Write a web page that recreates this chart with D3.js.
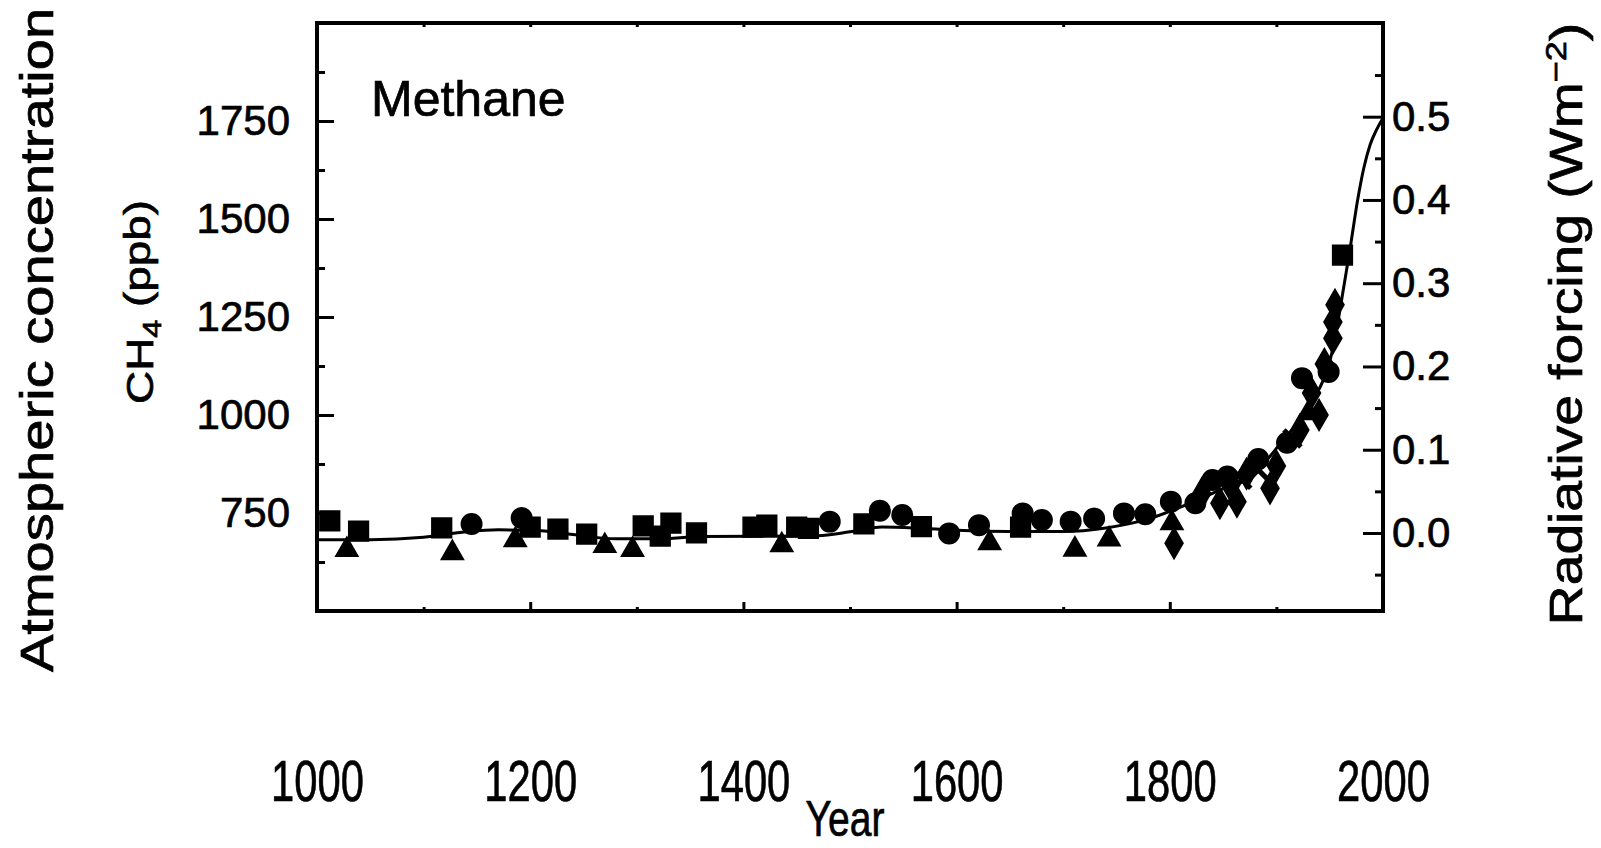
<!DOCTYPE html>
<html>
<head>
<meta charset="utf-8">
<script src="https://cdn.jsdelivr.net/npm/d3@7"></script>
<style>
	html, body { margin: 0; padding: 0; background: #fff; }
	svg { display: block; font-family: 'Liberation Sans', Arial, Helvetica, sans-serif; }
	text { fill: #000; stroke: #000; stroke-width: 0.7px; }
</style>
</head>
<body>
<svg id="chart" width="1601" height="848"></svg>
<script>
// ice core / firn measurements, [year, CH4 ppb]
var squares = [[1012,730],[1039,704],[1117,712],[1200,714],[1226,709],[1253,696],[1306,717],[1322,691],
	[1332,724],[1356,699],[1409,714],[1422,719],[1450,714],[1461,711],[1513,722],[1567,715],[1660,714],[1962,1408]];
var circles = [[1145,722],[1192,737],[1481,728],[1528,756],[1549,745],[1593,698],[1621,719],[1662,749],
	[1680,732],[1707,728],[1729,736],[1757,749],[1777,747],[1801,779],[1824,775],[1840,834],[1854,843],
	[1883,888],[1910,929],[1924,1094],[1949,1110]];
var triangles = [[1028,656],[1127,648],[1186,681],[1270,666],[1296,656],[1436,668],[1631,673],[1711,657],
	[1743,683],[1802,724],[1930,1005]];
var diamonds = [[1804,673],[1830,800],[1847,775],[1857,820],[1863,779],[1872,850],[1894,813],[1900,870],
	[1922,962],[1933,1056],[1940,1000],[1945,1130],[1953,1196],[1953,1237],[1955,1281]];
var crosses = [[1868,835],[1883,860],[1915,940]];

// smoothed fit
var fitYears = [1000,1050,1100,1140,1170,1210,1240,1280,1320,1360,1430,1470,1500,1530,1560,1600,1650,1700,
	1740,1780,1810,1840,1870,1891,1906,1922,1934,1944,1952,1958,1964,1970,1976,1982,1988,1994,2000];
var fitPpb = [682,682,688,702,707,705,695,684,684,690,691,692,702,714,712,706,703,703,
	712,735,765,800,840,885,936,987,1038,1089,1158,1242,1340,1440,1545,1630,1690,1728,1758];

var ppbTicks = [750, 1000, 1250, 1500, 1750];
var ppbMinor = [625, 875, 1125, 1375, 1625, 1875];
var forcingTicks = [0, 0.1, 0.2, 0.3, 0.4, 0.5];
var forcingMinor = [-0.05, 0.05, 0.15, 0.25, 0.35, 0.45, 0.55];
var yearTicks = [1000, 1200, 1400, 1600, 1800, 2000];
var yearMinor = [1100, 1300, 1500, 1700, 1900];

// forcing axis: ppb equivalent of 0 Wm-2 and ppb per 1 Wm-2
var rfZeroPpb = 699,
	rfPpbPerUnit = 2124;

var svg = d3.select('#chart');

var x = d3.scaleLinear().domain([1000, 2000]).range([317, 1383]);
var y = d3.scaleLinear().domain([500, 2000]).range([611, 23]);
var yRf = d3.scaleLinear()
	.domain([(500 - rfZeroPpb) / rfPpbPerUnit, (2000 - rfZeroPpb) / rfPpbPerUnit])
	.range([611, 23]);

function cleanAxis(g) {
	g.select('.domain').remove();
	g.selectAll('line').attr('stroke', '#000').attr('stroke-width', 3);
}

// left axis
svg.append('g')
	.attr('transform', 'translate(317,0)')
	.call(d3.axisLeft(y).tickValues(ppbTicks).tickSize(-17).tickPadding(27).tickFormat(d3.format('d')))
	.call(cleanAxis)
	.selectAll('text')
		.style('font-size', '42px');

svg.append('g')
	.attr('transform', 'translate(317,0)')
	.call(d3.axisLeft(y).tickValues(ppbMinor).tickSize(-8).tickFormat(''))
	.call(cleanAxis);

// right axis
svg.append('g')
	.attr('transform', 'translate(1383,0)')
	.call(d3.axisRight(yRf).tickValues(forcingTicks).tickSize(-20).tickPadding(9).tickFormat(d3.format('.1f')))
	.call(cleanAxis)
	.selectAll('text')
		.style('font-size', '42px');

svg.append('g')
	.attr('transform', 'translate(1383,0)')
	.call(d3.axisRight(yRf).tickValues(forcingMinor).tickSize(-8).tickFormat(''))
	.call(cleanAxis);

// bottom and top ticks
svg.append('g')
	.attr('transform', 'translate(0,611)')
	.call(d3.axisBottom(x).tickValues(yearTicks.slice(1, -1)).tickSize(-9).tickFormat(''))
	.call(cleanAxis);

svg.append('g')
	.attr('transform', 'translate(0,611)')
	.call(d3.axisBottom(x).tickValues(yearMinor).tickSize(-4).tickFormat(''))
	.call(cleanAxis);

svg.append('g')
	.attr('transform', 'translate(0,23)')
	.call(d3.axisTop(x).tickValues(yearMinor.concat(yearTicks.slice(1, -1))).tickSize(-4).tickFormat(''))
	.call(cleanAxis);

// year labels sit well below the frame
svg.append('g')
	.attr('transform', 'translate(0,760)')
	.call(d3.axisBottom(x).tickValues(yearTicks).tickSize(0).tickPadding(0).tickFormat(d3.format('d')))
	.call(cleanAxis)
	.selectAll('text')
		.style('font-size', '58px')
		.attr('transform', 'scale(0.72,1)');

// frame
svg.append('rect')
	.attr('x', x(1000))
	.attr('y', y(2000))
	.attr('width', x(2000) - x(1000))
	.attr('height', y(500) - y(2000))
	.attr('fill', 'none')
	.attr('stroke', '#000')
	.attr('stroke-width', 4);

// fit curve
var fit = fitYears.map(function (d, i) { return [d, fitPpb[i]]; });

svg.append('path')
	.datum(fit)
	.attr('fill', 'none')
	.attr('stroke', '#000')
	.attr('stroke-width', 3)
	.attr('d', d3.line()
		.x(function (d) { return x(d[0]); })
		.y(function (d) { return y(d[1]); })
		.curve(d3.curveMonotoneX));

// markers
function addMarkers(data, type, size, filled) {
	svg.append('g')
		.selectAll('path')
		.data(data)
		.join('path')
			.attr('transform', function (d) { return 'translate(' + x(d[0]) + ',' + y(d[1]) + ')'; })
			.attr('d', d3.symbol().type(type).size(size))
			.attr('fill', filled ? '#000' : 'none')
			.attr('stroke', '#000')
			.attr('stroke-width', filled ? 1.5 : 5);
}

addMarkers(squares, d3.symbolSquare, 390, true);
addMarkers(circles, d3.symbolCircle, 330, true);
addMarkers(triangles, d3.symbolTriangle, 215, true);
addMarkers(diamonds, d3.symbolDiamond, 280, true);
addMarkers(crosses, d3.symbolTimes, 190, false);

// texts
svg.append('text')
	.attr('x', 371)
	.attr('y', 116)
	.style('font-size', '50px')
	.text('Methane');

svg.append('text')
	.attr('transform', 'translate(845,836) scale(0.78,1)')
	.attr('text-anchor', 'middle')
	.style('font-size', '50px')
	.text('Year');

svg.append('text')
	.attr('transform', 'translate(53,340) rotate(-90) scale(1.22,1)')
	.attr('text-anchor', 'middle')
	.style('font-size', '46px')
	.text('Atmospheric concentration');

var ch4 = svg.append('text')
	.attr('transform', 'translate(153,302) rotate(-90) scale(1.24,1)')
	.attr('text-anchor', 'middle')
	.style('font-size', '37px');
ch4.append('tspan').text('CH');
ch4.append('tspan').attr('dy', '0.3em').style('font-size', '26px').text('4');
ch4.append('tspan').attr('dy', '-0.3em').text('  (ppb)');

var rf = svg.append('text')
	.attr('transform', 'translate(1582,324) rotate(-90) scale(1.2,1)')
	.attr('text-anchor', 'middle')
	.style('font-size', '46px');
rf.append('tspan').text('Radiative forcing  (Wm');
rf.append('tspan').attr('dy', '-0.55em').style('font-size', '30px').text('\u22122');
rf.append('tspan').attr('dy', '0.37em').text(')');
</script>
</body>
</html>
